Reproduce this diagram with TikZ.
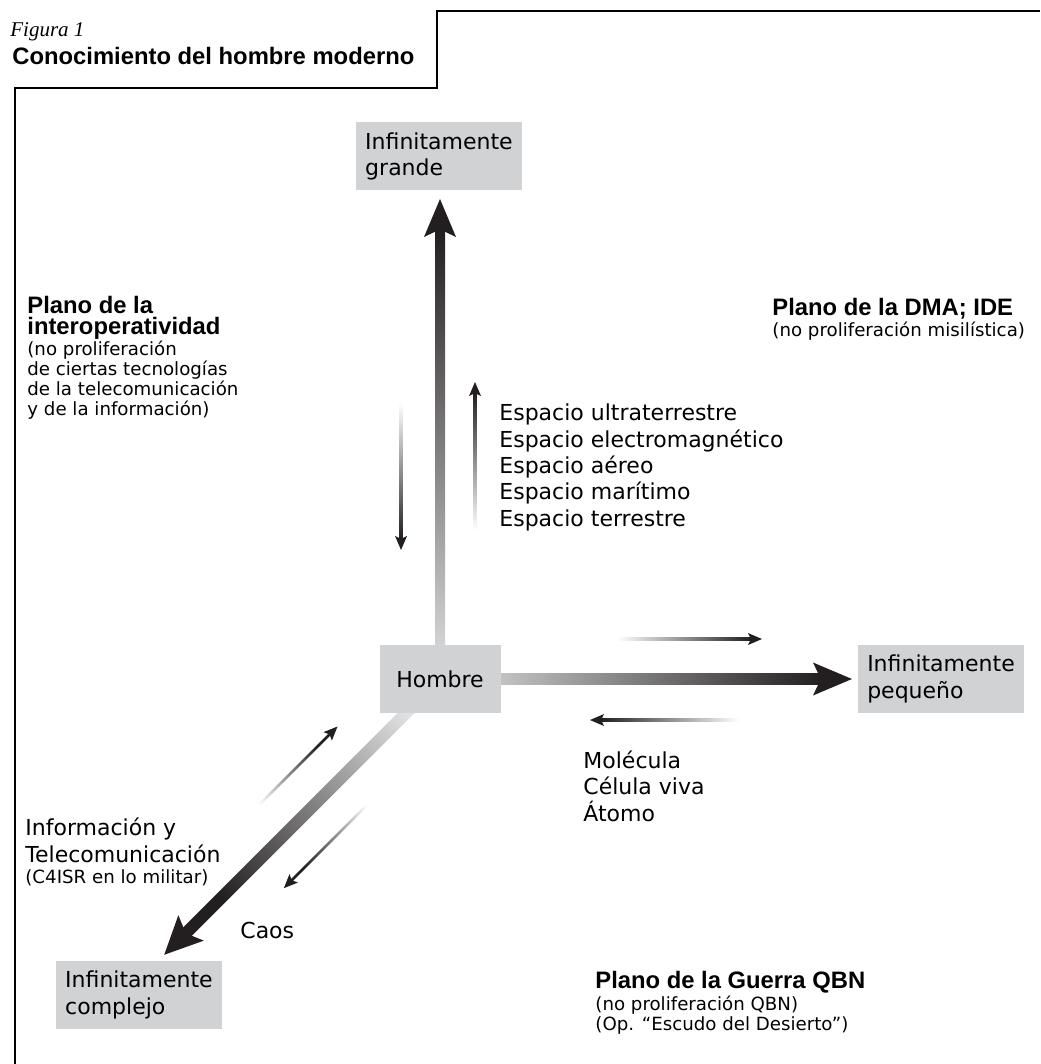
\documentclass[tikz,border=0pt]{standalone}
\usepackage{fontspec}
\setmainfont{DejaVu Sans}
\newfontfamily\headfont{Liberation Sans}
\newfontfamily\figfont{Liberation Serif}

\definecolor{boxgray}{RGB}{209,210,212}
\definecolor{arrowdark}{RGB}{35,31,32}
\definecolor{arrowlight}{RGB}{224,225,226}

\newcommand{\plainsize}{\fontsize{11}{13.15}\selectfont}
\newcommand{\smallsize}{\fontsize{9.1}{10}\selectfont\lineskiplimit=-5pt}
\newcommand{\headsize}{\headfont\bfseries\fontsize{11.9}{10.5}\selectfont\lineskiplimit=-5pt}

% shaded arrow: start, angle, length, half width, head length, head half width, start colour
\newcommand{\fadearrow}[7]{%
  \begin{scope}[shift={#1}, rotate=#2]
    \pgfmathsetmacro\shadeangle{#2-90}
    \shade[bottom color=#7, top color=arrowdark, shading angle=\shadeangle]
      (0,-#4) rectangle ({#3-0.8*#5},#4);
    \fill[arrowdark] (#3,0) -- ({#3-#5},#6) -- ({#3-0.8*#5},0) -- ({#3-#5},-#6) -- cycle;
  \end{scope}}

\tikzset{
  box/.style={fill=boxgray, minimum width=83pt, minimum height=34pt,
    align=left, font=\plainsize, inner sep=0pt},
  txt/.style={anchor=base west, inner sep=0pt, align=left, font=\plainsize},
  note/.style={txt, font=\smallsize},
  head/.style={txt, font=\headsize}
}

\begin{document}
\begin{tikzpicture}[x=0.5pt, y=-0.5pt]
  \useasboundingbox (0,0) rectangle (1040,1064);

  % frame with the title tab
  \draw[line width=0.7pt] (15,1064) -- (15,88) -- (437,88) -- (437,11) -- (1040,11);
  \node[txt, font=\figfont\itshape\fontsize{10.5}{12}\selectfont] (fig) at (10,37) {Figura 1};
  \node[head] (title) at (12,65) {Conocimiento del hombre moderno};

  % the three axes leave from the centre of Hombre
  \coordinate (hub) at (440,679);
  \fadearrow{(hub)}{90}{480}{5}{38}{16}{arrowlight}
  \fadearrow{(hub)}{0}{412}{5.5}{39}{16.5}{arrowlight}
  \fadearrow{(hub)}{225}{390}{6}{38}{18}{arrowlight}

  % boxes
  \node[box, minimum width=60.5pt] (hombre) at (hub) {Hombre};
  \node[box] (grande) at (439,156.5) {Infinitamente\\grande};
  \node[box] (pequeno) at (941,679) {Infinitamente\\pequeño};
  \node[box] (complejo) at (139,995) {Infinitamente\\complejo};

  % small arrows along the axes
  \fadearrow{(401,403)}{-90}{147}{1.3}{14}{6}{white}
  \fadearrow{(475,530)}{90}{148}{1.3}{14}{6}{white}
  \fadearrow{(617,639)}{0}{145}{1.3}{14}{6}{white}
  \fadearrow{(739,720)}{180}{149}{1.3}{14}{6}{white}
  \fadearrow{(247,817)}{45}{128}{1.3}{14}{6}{white}
  \fadearrow{(380,792)}{225}{136}{1.3}{14}{6}{white}

  % planes (a node's base is the baseline of its last line)
  \node[head] (pinterop) at (27,334) {Plano de la\\interoperatividad};
  \node[note] (pinteropnote) at (27,415) {(no proliferación\\de ciertas tecnologías\\de la telecomunicación\\y de la información)};
  \node[head] (pdma) at (772,315) {Plano de la DMA; IDE};
  \node[note] (pdmanote) at (772,336) {(no proliferación misilística)};
  \node[head] (pqbn) at (595,988) {Plano de la Guerra QBN};
  \node[note] (pqbnnote) at (595,1030) {(no proliferación QBN)\\(Op. “Escudo del Desierto”)};

  % axis labels
  \node[txt] (espacios) at (499,526) {Espacio ultraterrestre\\Espacio electromagnético\\Espacio aéreo\\Espacio marítimo\\Espacio terrestre};
  \node[txt] (particulas) at (583,821) {Molécula\\Célula viva\\Átomo};
  \node[txt] (info) at (25,862) {Información y\\Telecomunicación};
  \node[note] (infonote) at (25,883) {(C4ISR en lo militar)};
  \node[txt] (caos) at (240,938) {Caos};
\end{tikzpicture}
\end{document}
